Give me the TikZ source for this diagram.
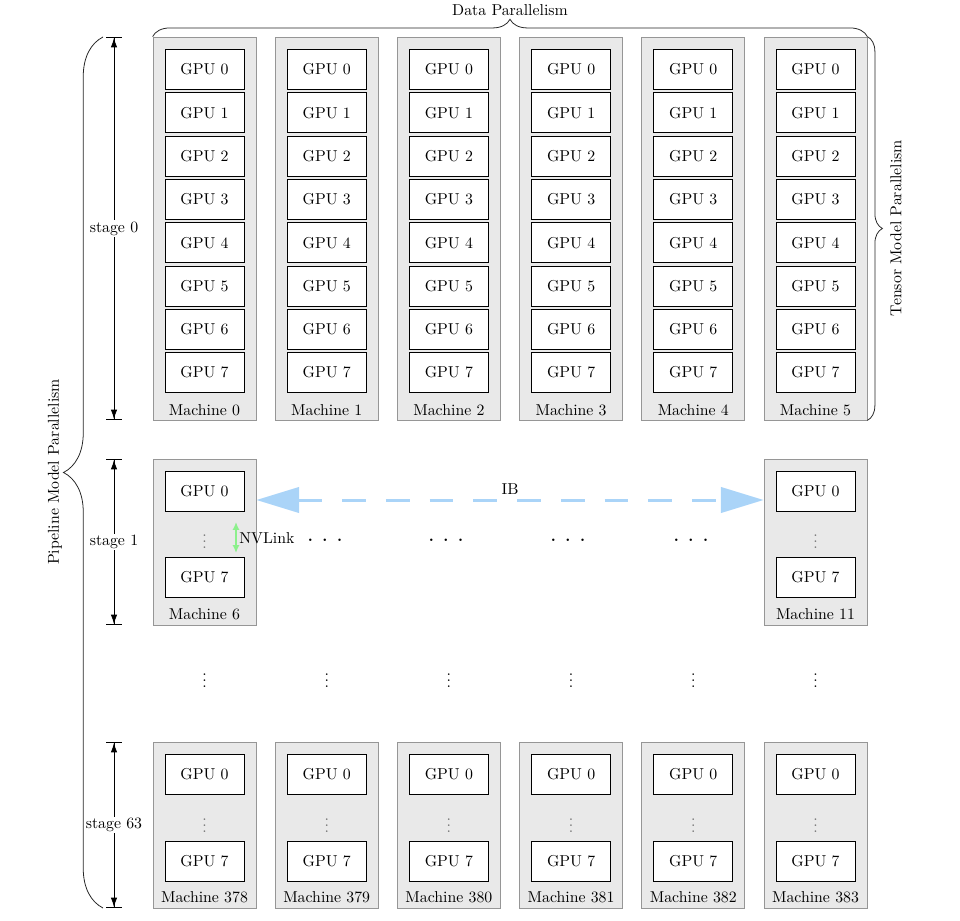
\documentclass[tikz,border=0pt]{standalone}
\usetikzlibrary{arrows.meta,decorations.pathreplacing}
\definecolor{machfill}{RGB}{233,233,233}
\definecolor{machdraw}{RGB}{150,150,150}
\definecolor{ibblue}{RGB}{170,212,248}
\definecolor{nvgreen}{RGB}{140,240,140}
\begin{document}
\begin{tikzpicture}[x=0.633pt,y=-0.633pt,
  machine/.style={draw=machdraw,fill=machfill,minimum width=65.2pt,inner sep=0pt,line width=0.5pt},
  gpu/.style={draw=black,fill=white,minimum width=50pt,minimum height=25.3pt,inner sep=0pt,line width=0.5pt},
  mlabel/.style={inner sep=0pt},
  innerdots/.style={inner sep=0pt,text=black!55},
  dim/.style={{Bar[width=10pt]Latex[length=6pt,width=4pt]}-{Latex[length=6pt,width=4pt]Bar[width=10pt]},line width=0.5pt},
  bracedeco/.style={decorate,decoration={brace,amplitude=#1},draw=black!85,line width=0.5pt},
  ibarrow/.style={draw=ibblue,line width=1.9pt,dash pattern=on 15pt off 12.7pt,
    {Triangle[length=27pt,width=16pt,fill=ibblue]}-{Triangle[length=27pt,width=16pt,fill=ibblue]}},
  nvarrow/.style={draw=nvgreen,line width=1.2pt,{Latex[length=5pt,width=4.5pt]}-{Latex[length=5pt,width=4.5pt]}},
]
\useasboundingbox (0,0) rectangle (960,921);

% stage 0
\foreach \j in {0,...,5}{
  \pgfmathsetmacro\cx{204.5+122.2*\j}
  \node[machine,minimum height=242.4pt] (a\j) at (\cx,228.5) {};
  \foreach \i in {0,...,7}{
    \node[gpu] (a\j-\i) at (\cx,{69.5+43.3*\i}) {GPU \i};
  }
  \node[mlabel] (a\j-l) at (\cx,410) {Machine \j};
}

% stage 1
\foreach \j/\m in {0/6,5/11}{
  \pgfmathsetmacro\cx{204.5+122.2*\j}
  \node[machine,minimum height=105pt] (b\j) at (\cx,542) {};
  \node[gpu] (b\j-0) at (\cx,491) {GPU 0};
  \node[innerdots] (b\j-d) at (\cx,537) {$\vdots$};
  \node[gpu] (b\j-7) at (\cx,577) {GPU 7};
  \node[mlabel] (b\j-l) at (\cx,614) {Machine \m};
}

% stage 63
\foreach \j in {0,...,5}{
  \pgfmathsetmacro\cx{204.5+122.2*\j}
  \pgfmathtruncatemacro\m{378+\j}
  \node[machine,minimum height=105pt] (c\j) at (\cx,825) {};
  \node[gpu] (c\j-0) at (\cx,774) {GPU 0};
  \node[innerdots] (c\j-d) at (\cx,821) {$\vdots$};
  \node[gpu] (c\j-7) at (\cx,861) {GPU 7};
  \node[mlabel] (c\j-l) at (\cx,897) {Machine \m};
  \node[inner sep=0pt] (v\j) at (\cx,676) {$\vdots$};
}

% horizontal dots in stage 1
\foreach \x [count=\k] in {325,446,568,691}{
  \node[inner sep=0pt] (h\k) at (\x,540) {\textbf{.\kern6pt.\kern6pt.}};
}

% IB link
\coordinate (iby) at (510,500);
\draw[ibarrow] (b0.east |- iby) -- node[above=2.5pt,inner sep=0pt] (ibl) {IB} (b5.west |- iby);

% NVLink
\coordinate (nv1) at (236,522);
\coordinate (nv2) at (236,553);
\draw[nvarrow] (nv1) -- (nv2);
\node[anchor=west,inner sep=0pt] (nvl) at (239,538) {NVLink};

% stage dimension arrows
\coordinate (s0t) at (114,37);  \coordinate (s0b) at (114,420);
\coordinate (s1t) at (114,459); \coordinate (s1b) at (114,625);
\coordinate (s2t) at (114,742); \coordinate (s2b) at (114,908);
\draw[dim] (s0t) -- node[fill=white,inner sep=1pt] (st0) {stage 0} (s0b);
\draw[dim] (s1t) -- node[fill=white,inner sep=1pt] (st1) {stage 1} (s1b);
\draw[dim] (s2t) -- node[fill=white,inner sep=1pt] (st2) {stage 63} (s2b);

% braces
\draw[bracedeco=11pt] (a0.north west) -- (a5.north east);
\node (dp) at (510,10) {Data Parallelism};
\draw[bracedeco=9.5pt] (a5.north east) -- (a5.south east);
\node[rotate=90] (tp) at (896,228) {Tensor Model Parallelism};
\coordinate (lb1) at (103,908);
\coordinate (lb2) at (103,37);
\draw[bracedeco=25pt] (lb1) -- (lb2);
\node[rotate=90] (pp) at (55,472) {Pipeline Model Parallelism};
\end{tikzpicture}
\end{document}
